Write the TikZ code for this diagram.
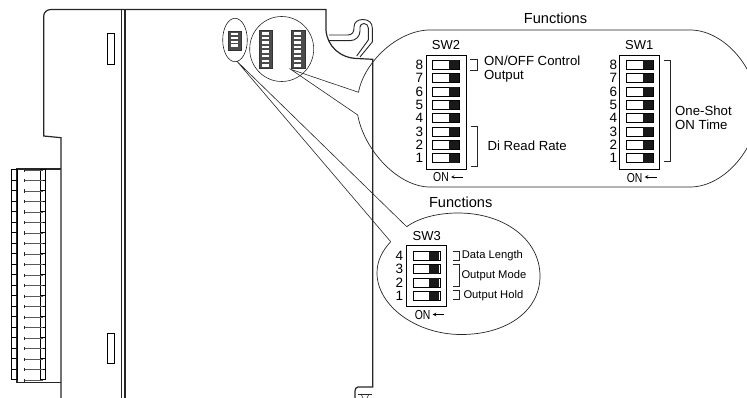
\documentclass[tikz,border=0pt]{standalone}
\usepackage{fontspec}
\setmainfont{Liberation Sans}
\usetikzlibrary{shapes.geometric}
\tikzset{
    outline/.style = {line width = 1.2pt, black!85},
    thinLine/.style = {line width = 0.6pt, black!85},
    hookLine/.style = {line width = 0.9pt, black!85},
    slotBox/.style = {draw, line width = 0.8pt, inner sep = 0, minimum width = 7.2, minimum height = 30.2},
    sliderBox/.style = {draw, line width = 0.8pt, fill = white, inner sep = 0, minimum width = 27, minimum height = 9},
    sliderKnob/.style = {fill = black!90, inner sep = 0, minimum width = 10, minimum height = 8.6},
    miniBody/.style = {draw = black!80, fill = black!70, line width = 0.7pt, inner sep = 0, minimum width = 13.2},
    miniRow/.style = {fill = white, inner sep = 0, minimum width = 7, minimum height = 2.4},
    digitLabel/.style = {inner sep = 0, font = \fontsize{13.5}{13.5}\selectfont},
    bigLabel/.style = {inner sep = 0, align = left, font = \fontsize{13.2}{13.7}\selectfont},
    smallLabel/.style = {inner sep = 0, font = \fontsize{11.2}{11.2}\selectfont},
    titleLabel/.style = {inner sep = 0, font = \fontsize{14.6}{14.6}\selectfont},
    onLabel/.style = {inner sep = 0, font = \fontsize{13}{13}\selectfont},
    onArrow/.style = {->, >=stealth, line width = 0.6pt, shorten > = 2pt}
}
\newcommand{\onText}{\scalebox{0.8}[1]{ON}}
\begin{document}
\begin{tikzpicture}[x = 1pt, y = -1pt]
    \useasboundingbox (0,0) rectangle (747,398);

    % housing
    \draw [outline] (61,398) -- (61,137.7) -- (43.7,136) -- (43.7,16) to[out = 90,in = 180] (51,9.5) -- (326,9.5) -- (326,30) .. controls (327,46) and (340,58) .. (357,58.5) -- (372.7,59.3) -- (372.7,387) -- (358,387) to[out = 180,in = 90] (355,391) -- (355,398);
    \draw [outline] (121.7,9.5) -- (121.7,398);
    \draw [outline] (125,9.5) -- (125,398);
    \draw [thinLine] (357.5,394) -- (372,394);
    \draw [thinLine] (361,394) -- (363,398);
    \draw [thinLine] (369,394) -- (367,398);

    % hook
    \draw [hookLine] (329,35) -- (348,35) .. controls (352,35) and (354,32) .. (354,28) -- (354,27) .. controls (354,22) and (358,19.5) .. (363,19.5) .. controls (369,19.5) and (372.3,23) .. (372.3,28) -- (372.3,42) -- (360,57);
    \draw [hookLine] (329,40.7) -- (350,40.7) .. controls (356,40.7) and (360,36) .. (360,31) -- (360,27) .. controls (360,25) and (362,23.5) .. (364,23.5) .. controls (366.5,23.5) and (368.3,25.5) .. (368.3,28) -- (368.3,40) -- (356.7,56);

    \node[slotBox](slotUpper) at (110.8,49) {};
    \node[slotBox](slotLower) at (110.8,348) {};

    % terminal block
    \draw [outline] (61,169) -- (17,169) -- (17,382.3) -- (61,382.3);
    \foreach \rowIndex in {0,...,19} {
        \pgfmathsetmacro{\rowY}{175+10.5*\rowIndex}
        \node[draw, line width = 1pt, inner sep = 0, minimum width = 6, minimum height = 10.5](leftCell\rowIndex) at (14,\rowY) {};
        \node[draw, line width = 0.7pt, inner sep = 0, minimum width = 4.6, minimum height = 10.5](rightCell\rowIndex) at (43,\rowY) {};
    }
    \foreach \rowIndex in {0,...,20} {
        \pgfmathsetmacro{\rowY}{170.2+10.5*\rowIndex}
        \draw [black!65, line width = 1.3pt] (25,\rowY) -- (43,\rowY);
        \draw [black!85, line width = 1pt] (24.6,\rowY-1.7) -- (24.6,\rowY+1.7);
    }

    % switches on the housing
    \node[miniBody, minimum height = 18.3](miniThree) at (235,40.8) {};
    \node[miniBody, minimum height = 37.6](miniTwo) at (266,49.5) {};
    \node[miniBody, minimum height = 37.6](miniOne) at (298.3,49.5) {};
    \foreach \rowIndex in {0,...,3} {
        \node[miniRow] at (234,34.2+3.8*\rowIndex) {};
    }
    \foreach \rowIndex in {0,...,7} {
        \node[miniRow] at (265,33.5+4.55*\rowIndex) {};
        \node[miniRow] at (297.3,33.5+4.55*\rowIndex) {};
    }
    \node[draw, ellipse, thinLine, inner sep = 0, minimum width = 24.6, minimum height = 43.4](smallOval) at (235,40) {};
    \node[draw, ellipse, thinLine, inner sep = 0, minimum width = 64, minimum height = 65](bigOval) at (281.7,49) {};

    % callouts
    \coordinate (twinStart) at (290.7,69.3);
    \coordinate (upperTipA) at (358.5,92.3);
    \coordinate (upperTipB) at (357.7,115);
    \coordinate (ovalStart) at (236.7,61);
    \coordinate (lowerTipA) at (406.7,226.7);
    \coordinate (lowerTipB) at (390.7,241.7);
    \draw [thinLine] (upperTipA) -- (twinStart) -- (upperTipB);
    \draw [thinLine] (lowerTipA) -- (ovalStart) -- (lowerTipB);
    \draw [thinLine, line width = 0.7pt] (upperTipA) .. controls (364,62) and (398,30) .. (430,30) -- (690,30) .. controls (725,30) and (758,70) .. (758,108.5) .. controls (758,147) and (725,187) .. (690,187) -- (430,187) .. controls (398,187) and (364,150) .. (upperTipB);
    \draw [thinLine, line width = 0.7pt] (lowerTipA) .. controls (420,217) and (440,213) .. (458,213) .. controls (505,213) and (540,240) .. (540,276) .. controls (540,312) and (505,335) .. (460,334.5) .. controls (415,334) and (377,305) .. (377,273) .. controls (377,260) and (383,250) .. (lowerTipB);

    \node[titleLabel](titleUpper) at (555.5,18) {Functions};
    \node[titleLabel](titleLower) at (460.7,202.7) {Functions};

    % SW2
    \node[draw, line width = 0.9pt, inner sep = 0, minimum width = 39.3, minimum height = 114](caseTwo) at (446.3,112) {};
    \node[onLabel](nameTwo) at (446,45) {SW2};
    \foreach \rowIndex/\rowText in {0/8,1/7,2/6,3/5,4/4,5/3,6/2,7/1} {
        \pgfmathsetmacro{\rowY}{64.7+13.37*\rowIndex}
        \node[sliderBox](sliderTwo\rowText) at (446.3,\rowY) {};
        \node[sliderKnob] at (454.2,\rowY) {};
        \node[digitLabel](digitTwo\rowText) at (419.3,\rowY) {\rowText};
    }
    \draw [thinLine] (470,59.3) -- (477.7,59.3) -- (477.7,70) -- (470,70);
    \draw [thinLine] (470.5,126.7) -- (477.7,126.7) -- (477.7,166) -- (470.5,166);
    \node[bigLabel, anchor = west](outputText) at (484,69) {ON/OFF Control\\Output};
    \node[bigLabel, anchor = west](rateText) at (487.3,145.7) {Di Read Rate};
    \node[onLabel](onTwo) at (441,177.5) {\onText};
    \coordinate (onTwoTail) at (462.7,177);
    \draw [onArrow] (onTwoTail) -- (onTwo.east |- onTwoTail);

    % SW1
    \node[draw, line width = 0.9pt, inner sep = 0, minimum width = 40, minimum height = 114](caseOne) at (639.3,112) {};
    \node[onLabel](nameOne) at (639.3,45) {SW1};
    \foreach \rowIndex/\rowText in {0/8,1/7,2/6,3/5,4/4,5/3,6/2,7/1} {
        \pgfmathsetmacro{\rowY}{64.7+13.37*\rowIndex}
        \node[sliderBox](sliderOne\rowText) at (639.8,\rowY) {};
        \node[sliderKnob] at (647.7,\rowY) {};
        \node[digitLabel](digitOne\rowText) at (613.3,\rowY) {\rowText};
    }
    \draw [thinLine] (664.3,60) -- (670.7,60) -- (670.7,161.7) -- (664.3,161.7);
    \node[bigLabel, anchor = west](timeText) at (675,117.5) {One-Shot\\ON Time};
    \node[onLabel](onOne) at (634.7,177.7) {\onText};
    \coordinate (onOneTail) at (656.7,177);
    \draw [onArrow] (onOneTail) -- (onOne.east |- onOneTail);

    % SW3
    \node[draw, line width = 0.9pt, inner sep = 0, minimum width = 39.3, minimum height = 60.7](caseThree) at (426.3,276.3) {};
    \node[onLabel](nameThree) at (426.7,236) {SW3};
    \foreach \rowIndex/\rowText in {0/4,1/3,2/2,3/1} {
        \pgfmathsetmacro{\rowY}{256+13.33*\rowIndex}
        \node[sliderBox](sliderThree\rowText) at (426.6,\rowY) {};
        \node[sliderKnob] at (434.3,\rowY) {};
        \node[digitLabel](digitThree\rowText) at (399.3,\rowY) {\rowText};
    }
    \draw [thinLine] (452.7,251) -- (459.3,251) -- (459.3,260) -- (452.7,260);
    \draw [thinLine] (452.7,264) -- (459.3,264) -- (459.3,286.7) -- (452.7,286.7);
    \draw [thinLine] (452.7,290) -- (459.3,290) -- (459.3,299.3) -- (452.7,299.3);
    \node[smallLabel, anchor = west](lengthText) at (461.7,255.7) {Data Length};
    \node[smallLabel, anchor = west](modeText) at (461.3,275.7) {Output Mode};
    \node[smallLabel, anchor = west](holdText) at (463.3,295.7) {Output Hold};
    \node[onLabel](onThree) at (422.7,315) {\onText};
    \coordinate (onThreeTail) at (444.3,314.5);
    \draw [onArrow] (onThreeTail) -- (onThree.east |- onThreeTail);
\end{tikzpicture}
\end{document}
